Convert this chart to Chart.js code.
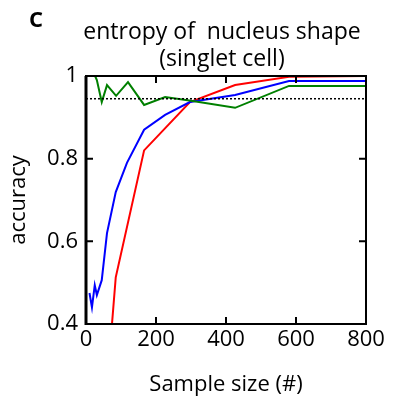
<!DOCTYPE html>
<html>
<head>
<meta charset="utf-8">
<script src="https://cdn.jsdelivr.net/npm/chart.js@4"></script>
<style>
  body { margin: 0; background: #fff; }
</style>
</head>
<body>
<canvas id="myChart1" width="400" height="409"></canvas>
<script>
// values
let blueX = [10, 17, 25, 31, 45, 60, 85, 117, 166, 226, 297, 426, 580, 800];
let blueY = [0.475, 0.44, 0.494, 0.47, 0.506, 0.62, 0.719, 0.79, 0.87, 0.906, 0.937, 0.954, 0.988, 0.988];
let redX = [60, 85, 166, 297, 426, 580, 800];
let redY = [0.25, 0.513, 0.82, 0.937, 0.978, 0.998, 1.0];
let greenX = [10, 26, 31, 45, 60, 86, 120, 166, 226, 300, 426, 580, 800];
let greenY = [1.0, 1.0, 0.99, 0.937, 0.978, 0.952, 0.985, 0.930, 0.949, 0.94, 0.923, 0.976, 0.976];
let threshold = 0.945;
let xTicks = [0, 200, 400, 600, 800];
let yTicks = [0.4, 0.6, 0.8, 1];

let font = "Open Sans";
let pts = (xs, ys) => xs.map((x, i) => ({x: x, y: ys[i]}));

// frame on top/right + inward ticks + title text
let extras = {
  id: 'extras',
  afterDraw(chart) {
    let ctx = chart.ctx;
    let a = chart.chartArea;
    let xs = chart.scales.x, ys = chart.scales.y;
    ctx.save();
    ctx.strokeStyle = 'black';
    ctx.lineWidth = 2;
    ctx.strokeRect(a.left, a.top, a.right - a.left, a.bottom - a.top);
    ctx.lineWidth = 3;
    ctx.beginPath();
    ctx.moveTo(a.left, a.top); ctx.lineTo(a.left, a.bottom + 1);
    ctx.stroke();
    ctx.lineWidth = 2;
    ctx.beginPath();
    xTicks.forEach(t => {
      let px = xs.getPixelForValue(t);
      ctx.moveTo(px, a.bottom); ctx.lineTo(px, a.bottom - 7);
      ctx.moveTo(px, a.top); ctx.lineTo(px, a.top + 7);
    });
    yTicks.forEach(t => {
      let py = ys.getPixelForValue(t);
      ctx.moveTo(a.left, py); ctx.lineTo(a.left + 7, py);
      ctx.moveTo(a.right, py); ctx.lineTo(a.right - 7, py);
    });
    ctx.stroke();
    ctx.fillStyle = 'black';
    ctx.textAlign = 'center';
    ctx.textBaseline = 'middle';
    ctx.font = '23px ' + font;
    ctx.fillText('entropy of  nucleus shape', 222, 32);
    ctx.fillText('(singlet cell)', 222, 59);
    ctx.font = 'bold 22px ' + font;
    ctx.fillText('C', 36, 21);
    ctx.restore();
  }
};

let chart = new Chart(document.getElementById('myChart1'), {
  type: 'line',
  data: {
    datasets: [{
      data: [{x: 0, y: threshold}, {x: 800, y: threshold}],
      borderColor: 'black',
      borderWidth: 1.5,
      borderDash: [2, 2],
      pointRadius: 0
    }, {
      data: pts(greenX, greenY),
      borderColor: 'rgb(0,128,0)',
      borderWidth: 2,
      pointRadius: 0
    }, {
      data: pts(blueX, blueY),
      borderColor: 'rgb(0,0,255)',
      borderWidth: 2,
      pointRadius: 0
    }, {
      data: pts(redX, redY),
      borderColor: 'rgb(255,0,0)',
      borderWidth: 2,
      pointRadius: 0
    }]
  },
  options: {
    responsive: false,
    animation: false,
    layout: {padding: {left: 0, top: 76, right: 34, bottom: 0}},
    plugins: {legend: {display: false}, tooltip: {enabled: false}},
    scales: {
      x: {
        type: 'linear',
        min: 0, max: 800,
        afterFit: s => { s.height = 85; },
        afterBuildTicks: s => { s.ticks = xTicks.map(v => ({value: v})); },
        grid: {display: false, drawTicks: false},
        border: {display: false},
        ticks: {color: 'black', font: {family: font, size: 22}, padding: 3, maxRotation: 0},
        title: {display: true, text: 'Sample size (#)', color: 'black', font: {family: font, size: 22}, padding: {top: 0, bottom: 11}}
      },
      y: {
        min: 0.4, max: 1,
        afterFit: s => { s.width = 86; },
        afterBuildTicks: s => { s.ticks = yTicks.map(v => ({value: v})); },
        grid: {display: false, drawTicks: false},
        border: {display: false},
        ticks: {color: 'black', font: {family: font, size: 22}, padding: 8,
          callback: v => String(+v.toFixed(1))},
        title: {display: true, text: 'accuracy', color: 'black', font: {family: font, size: 22}, padding: {top: 6}}
      }
    }
  },
  plugins: [extras]
});
</script>
</body>
</html>
